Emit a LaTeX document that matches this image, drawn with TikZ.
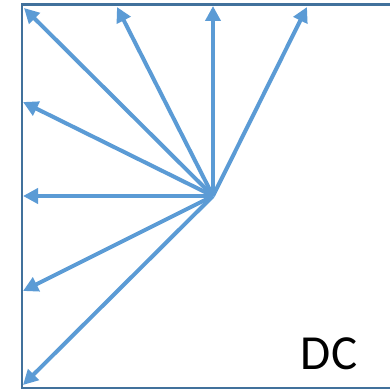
\documentclass[tikz,border=0pt]{standalone}
\usepackage{fontspec}
\setmainfont{Carlito}
\usetikzlibrary{arrows.meta}
\definecolor{arrowblue}{HTML}{5B9BD5}
\definecolor{boxblue}{HTML}{41719C}
\tikzset{
  ray/.style={draw=arrowblue, line width=4pt, -{Triangle[length=15pt,width=15pt]}},
  frame/.style={draw=boxblue, line width=2.5pt}
}
\begin{document}
\begin{tikzpicture}[x=1pt,y=-1pt]
\useasboundingbox (0,0) rectangle (390,390);
\coordinate (tr) at (392,4.5);
\coordinate (tl) at (22,4.5);
\coordinate (bl) at (22,388);
\coordinate (br) at (392,388);
\draw[frame] (tr) -- (tl) -- (bl) -- (br);
\coordinate (c) at (213,196);
\coordinate (e1) at (24,8);
\coordinate (e2) at (117,7);
\coordinate (e3) at (213,6);
\coordinate (e4) at (307,7);
\coordinate (e5) at (23,102);
\coordinate (e6) at (23,196);
\coordinate (e7) at (23,291);
\coordinate (e8) at (23,385);
\foreach \e in {e1,e2,e3,e4,e5,e6,e7,e8} \draw[ray] (c) -- (\e);
\node[font=\fontsize{49}{52}\selectfont, inner sep=0pt] (dc) at (329,354) {DC};
\end{tikzpicture}
\end{document}
